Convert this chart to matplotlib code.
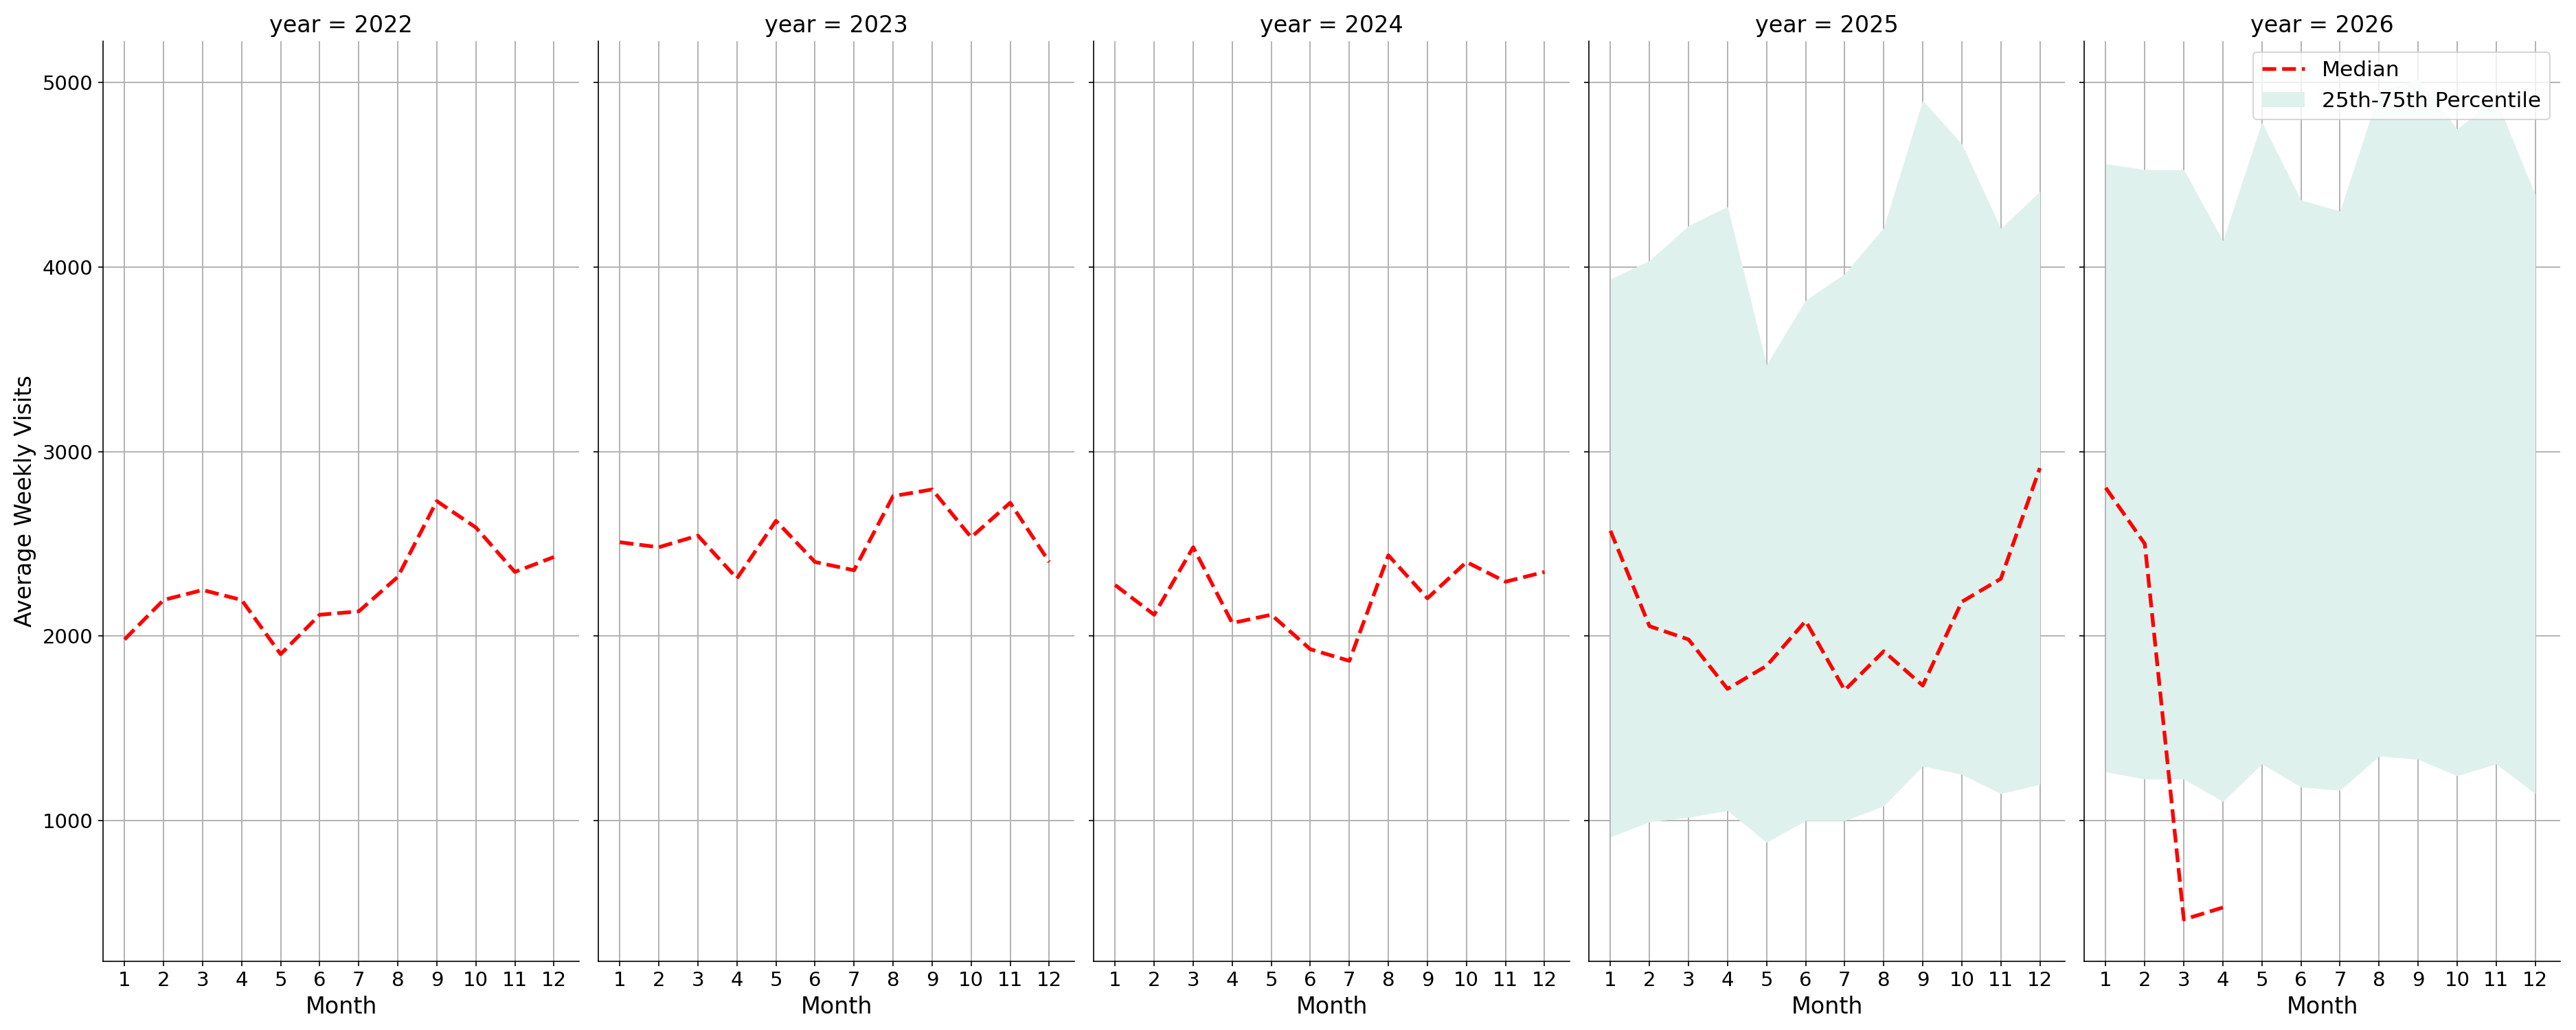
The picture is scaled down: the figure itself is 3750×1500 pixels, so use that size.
import matplotlib

matplotlib.use("Agg")

import matplotlib.pyplot as plt
import numpy as np

years = [2022, 2023, 2024, 2025, 2026]
months = list(range(1, 13))

median_by_year = {
    2022: [1982, 2196, 2250, 2196, 1902, 2116, 2134, 2321, 2732, 2589, 2348, 2429],
    2023: [2509, 2482, 2545, 2313, 2625, 2402, 2357, 2759, 2795, 2536, 2723, 2402],
    2024: [2277, 2116, 2482, 2071, 2116, 1929, 1866, 2438, 2205, 2402, 2295, 2348],
    2025: [2571, 2054, 1982, 1714, 1839, 2082, 1707, 1918, 1732, 2186, 2311, 2911],
    2026: [2804, 2500, 464, 529],
}
# Percentile bands only exist for the later years.
p25_by_year = {
    2025: [911, 993, 1018, 1054, 882, 1000, 1000, 1079, 1296, 1250, 1146, 1196],
    2026: [1264, 1225, 1225, 1104, 1307, 1182, 1164, 1350, 1332, 1243, 1307, 1146],
}
p75_by_year = {
    2025: [3936, 4036, 4225, 4329, 3471, 3821, 3964, 4214, 4904, 4668, 4210, 4410],
    2026: [4561, 4529, 4529, 4143, 4786, 4364, 4304, 4950, 5020, 4750, 4911, 4393],
}

fig, axes = plt.subplots(1, 5, figsize=(25, 10), dpi=150, sharey=True)
for ax, year in zip(axes, years):
    med = median_by_year[year]
    ax.plot(months[: len(med)], med, "--", color="red", lw=2.6, label="Median")
    if year in p25_by_year:
        ax.fill_between(months, p25_by_year[year], p75_by_year[year],
                        color="#dff1ec", lw=0, label="25th-75th Percentile")
    ax.set_title(f"year = {year}", fontsize=16)
    ax.set_xlabel("Month", fontsize=16)
    ax.set_xticks(months)
    ax.tick_params(labelsize=14)
    ax.set_xlim(0.45, 12.65)
    ax.grid(True, color="#b0b0b0", lw=0.9)
    ax.set_axisbelow(True)
    for side in ("top", "right"):
        ax.spines[side].set_visible(False)

axes[0].set_ylim(239, 5225)
axes[0].set_yticks([1000, 2000, 3000, 4000, 5000])
axes[0].set_ylabel("Average Weekly Visits", fontsize=16)
axes[-1].legend(loc="upper right", fontsize=15)

fig.subplots_adjust(left=0.04, right=0.994, bottom=0.067, top=0.96, wspace=0.04)
fig.savefig("out.png")
plt.close(fig)
